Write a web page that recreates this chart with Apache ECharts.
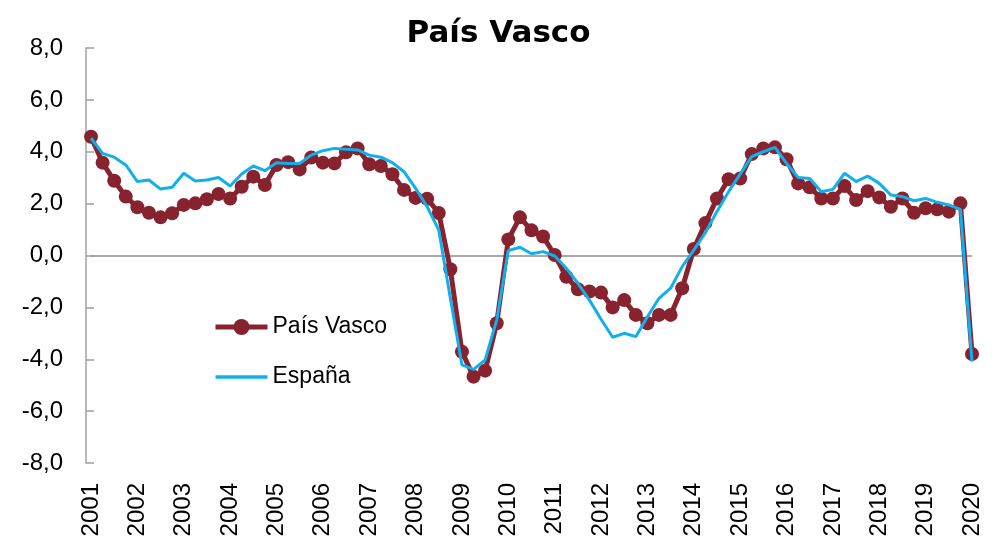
<!DOCTYPE html>
<html lang="es">
<head>
  <meta charset="UTF-8">
  <title>País Vasco</title>
  <style>
    html, body { margin: 0; padding: 0; background: #fff; }
    #chart { width: 997px; height: 544px; }
  </style>
</head>
<body>
  <div id="chart"></div>
  <script src="https://cdn.jsdelivr.net/npm/echarts@6/dist/echarts.min.js"></script>
  <script>
    // trimestres 2001T1 .. 2020T1
    const years = ['2001', '2002', '2003', '2004', '2005', '2006', '2007', '2008', '2009', '2010',
      '2011', '2012', '2013', '2014', '2015', '2016', '2017', '2018', '2019', '2020'];
    const categories = [];
    years.forEach(y => {
      for (let q = 1; q <= 4; q++) {
        if (y === '2020' && q > 1) break;
        categories.push(y + 'T' + q);
      }
    });

    const paisVasco = [
      4.58, 3.58, 2.88, 2.27, 1.86, 1.65, 1.47, 1.63, 1.95, 2.01,
      2.17, 2.37, 2.20, 2.65, 3.04, 2.72, 3.49, 3.60, 3.32, 3.78,
      3.58, 3.55, 3.98, 4.13, 3.52, 3.45, 3.13, 2.53, 2.22, 2.19,
      1.64, -0.53, -3.71, -4.67, -4.44, -2.61, 0.62, 1.47, 0.97, 0.73,
      0.02, -0.82, -1.30, -1.39, -1.43, -2.00, -1.72, -2.29, -2.61, -2.29,
      -2.29, -1.26, 0.25, 1.25, 2.20, 2.94, 2.97, 3.91, 4.13, 4.17,
      3.71, 2.78, 2.63, 2.20, 2.20, 2.68, 2.14, 2.48, 2.24, 1.88,
      2.20, 1.65, 1.82, 1.78, 1.69, 2.01, -3.80
    ];
    const espana = [
      4.52, 3.94, 3.79, 3.49, 2.85, 2.91, 2.56, 2.63, 3.17, 2.87,
      2.91, 3.01, 2.68, 3.14, 3.45, 3.27, 3.58, 3.55, 3.55, 3.87,
      4.04, 4.13, 4.10, 4.07, 3.87, 3.79, 3.58, 3.23, 2.59, 1.88,
      0.98, -1.65, -4.22, -4.39, -4.03, -2.49, 0.19, 0.32, 0.07, 0.15,
      -0.02, -0.49, -1.07, -1.72, -2.46, -3.15, -3.00, -3.13, -2.36, -1.65,
      -1.26, -0.43, 0.21, 0.88, 1.70, 2.46, 3.14, 3.81, 4.00, 4.17,
      3.55, 3.01, 2.97, 2.46, 2.55, 3.17, 2.85, 3.06, 2.78, 2.33,
      2.27, 2.11, 2.20, 2.05, 1.95, 1.78, -4.09
    ];

    const font = 'Liberation Sans, Arial, sans-serif';
    const chart = echarts.init(document.getElementById('chart'));

    chart.setOption({
      animation: false,
      title: {
        text: 'País Vasco',
        left: 'center',
        top: 13,
        textStyle: { fontFamily: 'DejaVu Sans', fontSize: 31, fontWeight: 'bold', color: '#000' }
      },
      legend: {
        orient: 'vertical',
        left: 213,
        top: 315,
        padding: 0,
        itemWidth: 52,
        itemHeight: 20,
        itemGap: 26,
        textStyle: { fontFamily: font, fontSize: 23, color: '#000', lineHeight: 24 },
        data: [
          { name: 'País Vasco', lineStyle: { width: 5 } },
          { name: 'España', itemStyle: { opacity: 0 }, lineStyle: { width: 3.5 } }
        ]
      },
      grid: { left: 91, right: 25, top: 48, bottom: 81 },
      xAxis: {
        type: 'category',
        data: categories,
        boundaryGap: false,
        axisLine: { onZero: false, show: false },
        axisTick: { show: false },
        axisLabel: {
          interval: 3,
          rotate: 90,
          margin: 20,
          fontFamily: font,
          fontSize: 24,
          color: '#000',
          formatter: v => v.slice(0, 4)
        },
        splitLine: { show: false }
      },
      yAxis: {
        type: 'value',
        min: -8,
        max: 8,
        interval: 2,
        offset: 5,
        axisLine: { show: true, lineStyle: { color: '#a0a0a0', width: 1.5 } },
        axisTick: { show: true, inside: true, length: 8, lineStyle: { color: '#a0a0a0', width: 1.5 } },
        axisLabel: {
          margin: 23,
          fontFamily: font,
          fontSize: 24,
          color: '#000',
          formatter: v => v.toFixed(1).replace('.', ',')
        },
        splitLine: { show: false }
      },
      series: [
        {
          name: 'País Vasco',
          type: 'line',
          data: paisVasco,
          symbol: 'circle',
          symbolSize: 14,
          showAllSymbol: true,
          color: '#87232f',
          lineStyle: { width: 5, color: '#87232f' },
          itemStyle: { color: '#87232f' },
          z: 2,
          markLine: {
            silent: true,
            symbol: 'none',
            label: { show: false },
            lineStyle: { color: '#8c8c8c', width: 1.5, type: 'solid' },
            data: [{ yAxis: 0 }],
            z: 1
          }
        },
        {
          name: 'España',
          type: 'line',
          data: espana,
          symbol: 'none',
          color: '#10b0ec',
          lineStyle: { width: 3, color: '#10b0ec' },
          z: 3
        }
      ]
    });
  </script>
</body>
</html>
